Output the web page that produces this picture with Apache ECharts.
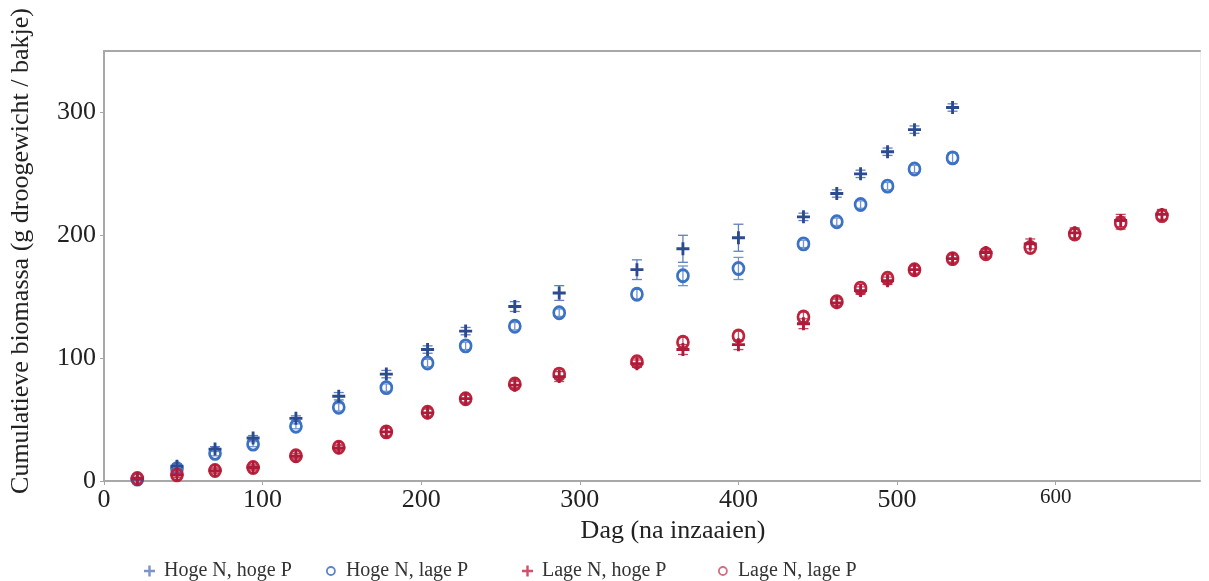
<!DOCTYPE html>
<html>
<head>
<meta charset="utf-8">
<script src="https://cdn.jsdelivr.net/npm/echarts@6/dist/echarts.min.js"></script>
<style>html,body{margin:0;padding:0;background:#fff}#c{width:1209px;height:581px}</style>
</head>
<body>
<div id="c"></div>
<script>
// ---- data ----
const days = [21, 46, 70, 94, 121, 148, 178, 204, 228, 259, 287, 336, 365, 400, 441, 462, 477, 494, 511, 535, 556, 584, 612, 641, 667];
const hogeNhogeP = [1.5, 12, 26, 35, 51, 69, 87, 107, 122, 142, 153, 172, 189, 198, 215, 234, 250, 268, 286, 304];
const hogeNlageP = [1.5, 10, 22.5, 30, 44.5, 60, 76, 96, 110, 126, 137, 152, 167, 173, 193, 211, 225, 240, 254, 263];
const lageNhogeP = [2, 5, 8.5, 11, 20, 27, 40, 55.5, 67, 78, 85, 95.5, 107, 111, 128, 145, 155, 163, 172, 181, 186, 193, 202, 212, 217];
const lageNlageP = [2, 5, 8.5, 11, 20.5, 27.5, 40, 56, 67, 79, 87, 97, 113, 118, 133.5, 146, 157, 165, 172, 181, 185, 190, 201, 210, 216];
const errHogeNhogeP = [1, 2, 2, 2, 2, 3, 3, 3, 3, 4, 6, 8, 11, 11, 3, 3, 3, 3, 3, 3];
const errHogeNlageP = [1, 2, 2, 2, 2, 3, 3, 3, 3, 3, 3, 4, 8, 9, 3, 3, 3, 3, 3, 4];
const errLageNhogeP = [1, 2, 2, 2, 2, 2, 3, 3, 3, 3, 4, 3, 4, 4, 4, 3, 3, 3, 3, 3, 3, 4, 4, 5, 4];
const errLageNlageP = [1, 2, 2, 2, 2, 2, 3, 3, 3, 3, 4, 3, 4, 4, 4, 3, 3, 3, 3, 3, 3, 4, 4, 5, 4];
const seriesNames = ['Hoge N, hoge P', 'Hoge N, lage P', 'Lage N, hoge P', 'Lage N, lage P'];
const xTicks = [0, 100, 200, 300, 400, 500, 600];
const yTicks = [0, 100, 200, 300];
const xAxisTitle = 'Dag (na inzaaien)';
const yAxisTitle = 'Cumulatieve biomassa (g droogewicht / bakje)';

// ---- styling ----
const FONT = "'Liberation Serif','Times New Roman',serif";
const PLUS = 'path://M0,3.9 H3.9 V0 H6.1 V3.9 H10 V6.1 H6.1 V10 H3.9 V6.1 H0 Z';
const colors = ['#2c4a90', '#3b72c4', '#ad1a3a', '#bd233d'];
const errColors = ['#5f7fbf', '#6f95d2', '#c0485e', '#c85468'];

function pts(vals) { return vals.map((v, i) => [days[i], v]); }
function errData(vals, errs) { return vals.map((v, i) => [days[i], v - errs[i], v + errs[i]]); }

function errSeries(vals, errs, idx) {
  return {
    type: 'custom',
    name: seriesNames[idx],
    z: 1,
    silent: true,
    data: errData(vals, errs),
    renderItem: function (params, api) {
      const x = api.value(0);
      const lo = api.coord([x, api.value(1)]);
      const hi = api.coord([x, api.value(2)]);
      const w = 5;
      const st = { stroke: errColors[idx], lineWidth: 1.3 };
      return {
        type: 'group',
        children: [
          { type: 'line', shape: { x1: lo[0], y1: lo[1], x2: hi[0], y2: hi[1] }, style: st },
          { type: 'line', shape: { x1: hi[0] - w, y1: hi[1], x2: hi[0] + w, y2: hi[1] }, style: st },
          { type: 'line', shape: { x1: lo[0] - w, y1: lo[1], x2: lo[0] + w, y2: lo[1] }, style: st }
        ]
      };
    }
  };
}

function plusSeries(vals, idx) {
  return {
    type: 'scatter', name: seriesNames[idx], z: 4,
    symbol: PLUS, symbolSize: 13,
    itemStyle: { color: colors[idx], opacity: 1 },
    data: pts(vals)
  };
}
function circleSeries(vals, idx) {
  return {
    type: 'scatter', name: seriesNames[idx], z: 3,
    symbol: 'circle', symbolSize: [11, 12],
    itemStyle: { color: 'rgba(0,0,0,0)', borderColor: colors[idx], borderWidth: 2.8, opacity: 1 },
    data: pts(vals)
  };
}

const legendStyle = [
  { icon: PLUS, color: '#7b95c8' },
  { icon: 'circle', color: 'rgba(0,0,0,0)', border: '#5a86c8' },
  { icon: PLUS, color: '#d0506a' },
  { icon: 'circle', color: 'rgba(0,0,0,0)', border: '#d07080' }
];
const legendLeft = [139, 321, 517, 713];
const legends = seriesNames.map((n, i) => ({
  left: legendLeft[i], top: 556,
  itemWidth: legendStyle[i].icon === PLUS ? 11 : 8,
  itemHeight: legendStyle[i].icon === PLUS ? 11 : 8,
  itemGap: 0,
  selectedMode: false,
  textStyle: { fontFamily: FONT, fontSize: 20, color: '#333', padding: [0, 0, 0, legendStyle[i].icon === PLUS ? 4 : 6] },
  data: [{
    name: n, icon: legendStyle[i].icon,
    itemStyle: { color: legendStyle[i].color, borderColor: legendStyle[i].border || legendStyle[i].color, borderWidth: legendStyle[i].border ? 1.8 : 0 }
  }]
}));

const chart = echarts.init(document.getElementById('c'), null, { renderer: 'canvas' });
chart.setOption({
  animation: false,
  backgroundColor: '#fff',
  grid: { left: 104, right: 9, top: 51, bottom: 100, show: false },
  legend: legends,
  xAxis: [{
    type: 'value', min: 0, max: 691, interval: 100,
    name: xAxisTitle, nameLocation: 'middle', nameGap: 32,
    nameTextStyle: { fontFamily: FONT, fontSize: 26, color: '#222', padding: [0, 0, 0, 42] },
    axisLine: { show: true, lineStyle: { color: '#a8a8a8', width: 2 } },
    axisTick: { show: true, length: 4, customValues: xTicks, lineStyle: { color: '#a8a8a8' } },
    axisLabel: {
      customValues: xTicks, margin: 6,
      fontFamily: FONT, fontSize: 26, color: '#222',
      formatter: function (v) { return v === 600 ? '{s|' + v + '}' : String(v); },
      rich: { s: { fontFamily: FONT, fontSize: 21, color: '#222', padding: [0, 0, 6, 0] } }
    },
    splitLine: { show: false }
  }, {
    type: 'value', position: 'top', min: 0, max: 691,
    axisLine: { show: true, onZero: false, lineStyle: { color: '#a8a8a8', width: 2 } },
    axisTick: { show: false }, axisLabel: { show: false }, splitLine: { show: false }
  }],
  yAxis: [{
    type: 'value', min: 0, max: 350, interval: 100,
    name: yAxisTitle, nameLocation: 'middle', nameGap: 70,
    nameTextStyle: { fontFamily: FONT, fontSize: 26, color: '#222', padding: [0, 0, 0, 30] },
    axisLine: { show: true, onZero: false, lineStyle: { color: '#a8a8a8', width: 2 } },
    axisTick: { show: true, length: 4, customValues: yTicks, lineStyle: { color: '#a8a8a8' } },
    axisLabel: { customValues: yTicks, margin: 8, fontFamily: FONT, fontSize: 26, color: '#222' },
    splitLine: { show: false }
  }, {
    type: 'value', position: 'right', min: 0, max: 350,
    axisLine: { show: true, onZero: false, lineStyle: { color: '#ececec', width: 1 } },
    axisTick: { show: false }, axisLabel: { show: false }, splitLine: { show: false }
  }],
  series: [
    errSeries(hogeNhogeP, errHogeNhogeP, 0),
    errSeries(hogeNlageP, errHogeNlageP, 1),
    errSeries(lageNhogeP, errLageNhogeP, 2),
    errSeries(lageNlageP, errLageNlageP, 3),
    plusSeries(hogeNhogeP, 0),
    circleSeries(hogeNlageP, 1),
    circleSeries(lageNlageP, 3),
    plusSeries(lageNhogeP, 2)
  ]
});
</script>
</body>
</html>
